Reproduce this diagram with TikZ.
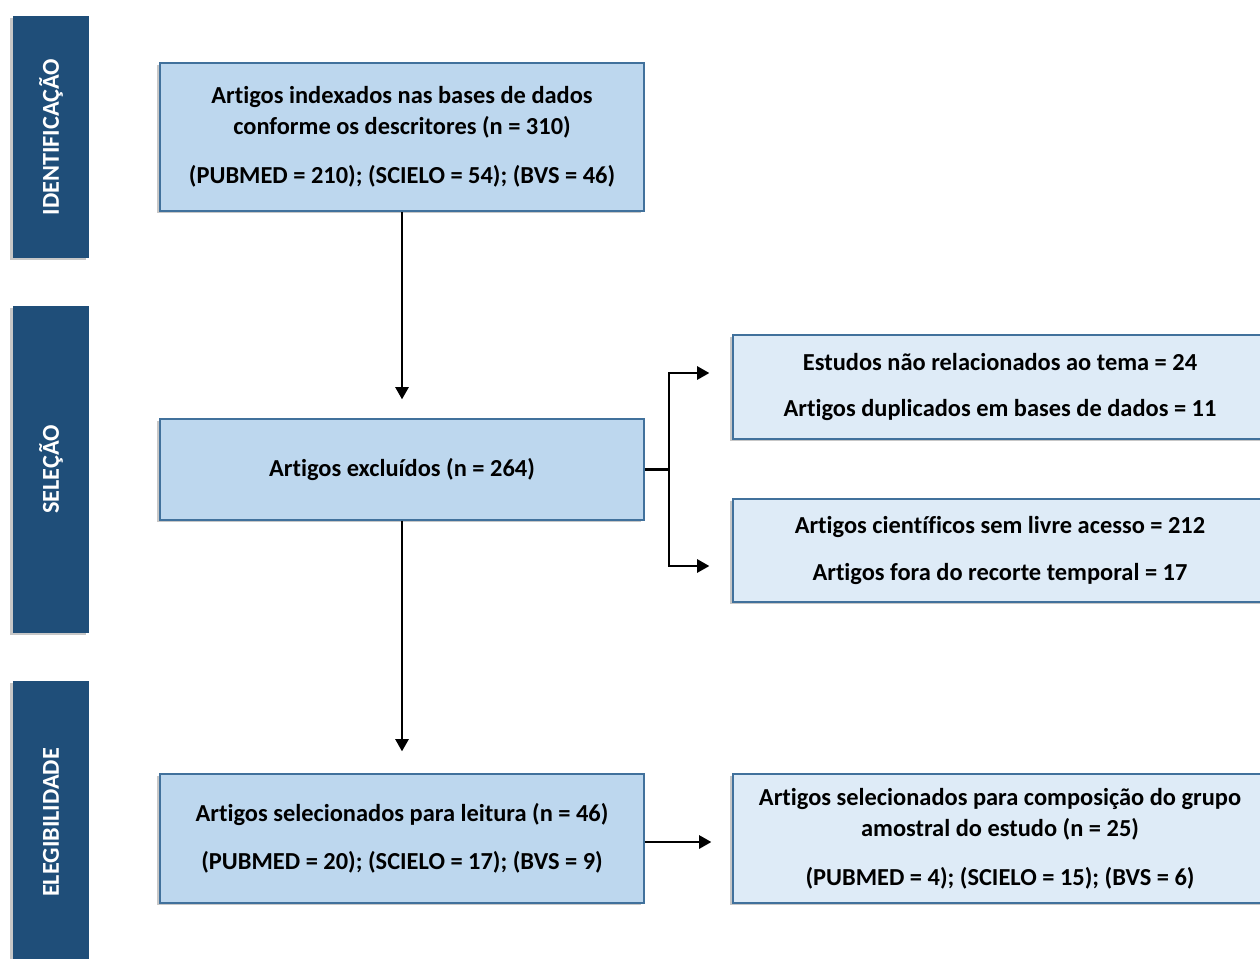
\documentclass[tikz,border=0pt]{standalone}
\usepackage{fontspec}
\setmainfont{Carlito}[Ligatures=NoCommon]
\usetikzlibrary{arrows.meta,shadows}

\definecolor{barblue}{HTML}{1F4E79}
\definecolor{boxfill}{HTML}{BDD7EE}
\definecolor{exfill}{HTML}{DEEBF7}
\definecolor{boxline}{HTML}{41719C}

\tikzset{
  shade/.style={drop shadow={shadow xshift=-1.5pt, shadow yshift=-1pt, fill=black, opacity=.22}},
  phase/.style={fill=barblue, text=white, rotate=90, shade, minimum height=1.52cm,
    font=\fontsize{13.8}{16}\selectfont\bfseries},
  stagebox/.style={draw=boxline, line width=0.8pt, fill=boxfill, shade, align=center,
    minimum width=9.68cm, font=\fontsize{13.9}{17.6}\selectfont\bfseries},
  exbox/.style={stagebox, fill=exfill, minimum width=10.68cm},
  arr/.style={-{Triangle[length=7pt,width=7.5pt]}, line width=1.4pt},
}

\begin{document}
\begin{tikzpicture}[x=0.02cm, y=-0.02cm]
        \useasboundingbox[fill=white] (0,0) rectangle (1260,958);

        % fases
        \node[phase, minimum width=4.84cm] (idf) at (51,137) {IDENTIFICAÇÃO};
        \node[phase, minimum width=6.54cm] (sel) at (51,469.5) {SELEÇÃO};
        \node[phase, minimum width=5.66cm] (ele) at (51,822.5) {ELEGIBILIDADE};

        % coluna principal
        \node[stagebox, minimum height=2.96cm] (ind) at (402,137)
            {Artigos indexados nas bases de dados\\conforme os descritores (n = 310)\\[10.5pt]
             (PUBMED = 210); (SCIELO = 54); (BVS = 46)};
        \node[stagebox, minimum height=2.02cm] (exc) at (402,469.5) {Artigos excluídos (n = 264)};
        \node[stagebox, minimum height=2.58cm] (lei) at (402,838.5)
            {Artigos selecionados para leitura (n = 46)\\[10pt]
             (PUBMED = 20); (SCIELO = 17); (BVS = 9)};

        % exclusoes e resultado
        \node[exbox, minimum height=2.08cm] (ex1) at (1000,387)
            {Estudos não relacionados ao tema = 24\\[9pt]
             Artigos duplicados em bases de dados = 11};
        \node[exbox, minimum height=2.06cm] (ex2) at (1000,550.5)
            {Artigos científicos sem livre acesso = 212\\[9pt]
             Artigos fora do recorte temporal = 17};
        \node[exbox, minimum height=2.58cm] (amo) at (1000,838.5)
            {Artigos selecionados para composição do grupo\\amostral do estudo (n = 25)\\[10.5pt]
             (PUBMED = 4); (SCIELO = 15); (BVS = 6)};

        % setas
        \draw[arr, shorten >=0.38cm] (ind.south) -- (exc.north);
        \draw[arr, shorten >=0.44cm] (exc.south) -- (lei.north);
        \coordinate (br) at (669,469.5);
        \draw[line width=1.4pt] (exc.east) -- (br);
        \draw[arr, shorten >=0.46cm] (br) |- ([yshift=0.28cm]ex1.west);
        \draw[arr, shorten >=0.46cm] (br) |- ([yshift=-0.31cm]ex2.west);
        \draw[arr, shorten >=0.42cm] (lei.east |- 0,842) -- (amo.west |- 0,842);
\end{tikzpicture}
\end{document}
